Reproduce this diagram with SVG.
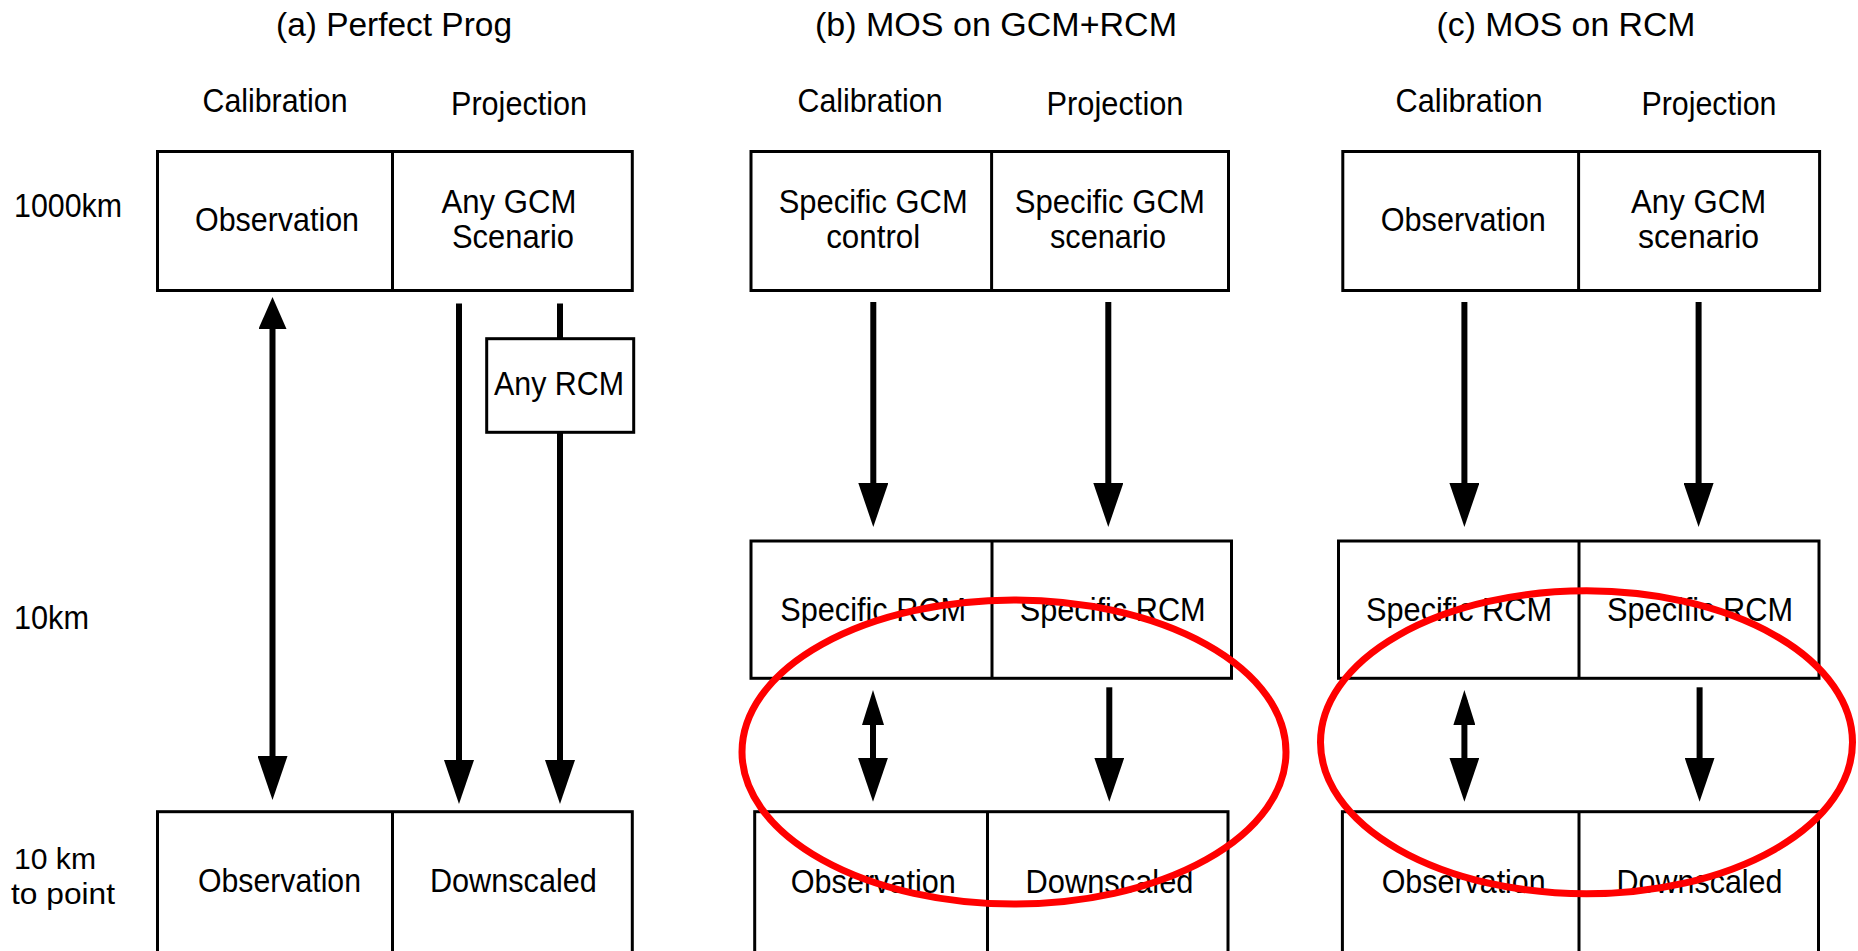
<svg xmlns="http://www.w3.org/2000/svg" width="1858" height="951" viewBox="0 0 1858 951">
<style>
  text { font-family: "Liberation Sans", Arial, sans-serif; font-size: 33px; fill: #000; }
  .c { text-anchor: middle; }
  .sm { font-size: 30px; }
  .box { fill: #fff; stroke: #000; stroke-width: 3; }
  .div { stroke: #000; stroke-width: 3; }
  .arrow { stroke: #000; stroke-width: 6; fill: none; }
  .ring { fill: none; stroke: #ff0000; stroke-width: 7; }
</style>
<defs>
  <marker id="headBig" markerUnits="userSpaceOnUse" markerWidth="44" markerHeight="30" viewBox="0 0 44 30" refX="34" refY="15" orient="auto-start-reverse">
    <path d="M0,0 L44,15 L0,30 z" fill="#000"/>
  </marker>
  <marker id="headA" markerUnits="userSpaceOnUse" markerWidth="32" markerHeight="28" viewBox="0 0 32 28" refX="24" refY="14" orient="auto-start-reverse">
    <path d="M0,0 L32,14 L0,28 z" fill="#000"/>
  </marker>
  <marker id="headS" markerUnits="userSpaceOnUse" markerWidth="35" markerHeight="22" viewBox="0 0 35 22" refX="25" refY="11" orient="auto-start-reverse">
    <path d="M0,0 L35,11 L0,22 z" fill="#000"/>
  </marker>
</defs>
<rect x="0" y="0" width="1858" height="951" fill="#fff"/>

<g id="labels">
  <text class="c" x="394" y="36" textLength="236" lengthAdjust="spacingAndGlyphs">(a) Perfect Prog</text>
  <text class="c" x="996" y="36" textLength="362" lengthAdjust="spacingAndGlyphs">(b) MOS on GCM+RCM</text>
  <text class="c" x="1566" y="36" textLength="259" lengthAdjust="spacingAndGlyphs">(c) MOS on RCM</text>
  <text class="c" x="275" y="112" textLength="145" lengthAdjust="spacingAndGlyphs">Calibration</text>
  <text class="c" x="519" y="115" textLength="136" lengthAdjust="spacingAndGlyphs">Projection</text>
  <text class="c" x="870" y="112" textLength="145" lengthAdjust="spacingAndGlyphs">Calibration</text>
  <text class="c" x="1115" y="115" textLength="137" lengthAdjust="spacingAndGlyphs">Projection</text>
  <text class="c" x="1469" y="112" textLength="147" lengthAdjust="spacingAndGlyphs">Calibration</text>
  <text class="c" x="1709" y="115" textLength="135" lengthAdjust="spacingAndGlyphs">Projection</text>
  <text x="14" y="217" textLength="108" lengthAdjust="spacingAndGlyphs">1000km</text>
  <text x="14" y="629" textLength="75" lengthAdjust="spacingAndGlyphs">10km</text>
  <text class="sm" x="14" y="869" textLength="82" lengthAdjust="spacingAndGlyphs">10 km</text>
  <text class="sm" x="11" y="904" textLength="104" lengthAdjust="spacingAndGlyphs">to point</text>
</g>

<g id="connectors">
  <line class="arrow" x1="272.5" y1="305" x2="272.5" y2="790" marker-start="url(#headA)" marker-end="url(#headBig)"/>
  <line class="arrow" x1="459" y1="303.5" x2="459" y2="794" marker-end="url(#headBig)"/>
  <line class="arrow" x1="560" y1="303.5" x2="560" y2="794" marker-end="url(#headBig)"/>
  <line class="arrow" x1="873.3" y1="302" x2="873.3" y2="517" marker-end="url(#headBig)"/>
  <line class="arrow" x1="1108.3" y1="302" x2="1108.3" y2="517" marker-end="url(#headBig)"/>
  <line class="arrow" x1="873" y1="700" x2="873" y2="791.7" marker-start="url(#headS)" marker-end="url(#headBig)"/>
  <line class="arrow" x1="1109.3" y1="687.3" x2="1109.3" y2="791.7" marker-end="url(#headBig)"/>
  <line class="arrow" x1="1464.4" y1="302" x2="1464.4" y2="517" marker-end="url(#headBig)"/>
  <line class="arrow" x1="1698.6" y1="302" x2="1698.6" y2="517" marker-end="url(#headBig)"/>
  <line class="arrow" x1="1464.4" y1="700" x2="1464.4" y2="791.7" marker-start="url(#headS)" marker-end="url(#headBig)"/>
  <line class="arrow" x1="1699.6" y1="687.3" x2="1699.6" y2="791.7" marker-end="url(#headBig)"/>
</g>

<g id="a-top">
  <rect class="box" x="157.5" y="151.5" width="474.8" height="139"/>
  <line class="div" x1="392.5" y1="151.5" x2="392.5" y2="290.5"/>
  <text class="c" x="277" y="231" textLength="164" lengthAdjust="spacingAndGlyphs">Observation</text>
  <text class="c" x="509" y="213" textLength="135" lengthAdjust="spacingAndGlyphs">Any GCM</text>
  <text class="c" x="513" y="248" textLength="122" lengthAdjust="spacingAndGlyphs">Scenario</text>
</g>
<g id="a-rcm">
  <rect class="box" x="486.7" y="338.7" width="147" height="93.6"/>
  <text class="c" x="559" y="395" textLength="130" lengthAdjust="spacingAndGlyphs">Any RCM</text>
</g>
<g id="a-bottom">
  <rect class="box" x="157.5" y="811.7" width="474.8" height="160"/>
  <line class="div" x1="392.5" y1="811.7" x2="392.5" y2="960"/>
  <text class="c" x="279.5" y="892" textLength="163" lengthAdjust="spacingAndGlyphs">Observation</text>
  <text class="c" x="513.4" y="892" textLength="167" lengthAdjust="spacingAndGlyphs">Downscaled</text>
</g>

<g id="b-top">
  <rect class="box" x="751" y="151.5" width="477.5" height="139"/>
  <line class="div" x1="991.6" y1="151.5" x2="991.6" y2="290.5"/>
  <text class="c" x="873.2" y="213" textLength="189" lengthAdjust="spacingAndGlyphs">Specific GCM</text>
  <text class="c" x="873.2" y="248" textLength="94" lengthAdjust="spacingAndGlyphs">control</text>
  <text class="c" x="1109.8" y="213" textLength="190" lengthAdjust="spacingAndGlyphs">Specific GCM</text>
  <text class="c" x="1108" y="248" textLength="116" lengthAdjust="spacingAndGlyphs">scenario</text>
</g>
<g id="b-mid">
  <rect class="box" x="751" y="541" width="480.5" height="137.3"/>
  <line class="div" x1="992" y1="541" x2="992" y2="678.3"/>
  <text class="c" x="873.2" y="621" textLength="186" lengthAdjust="spacingAndGlyphs">Specific RCM</text>
  <text class="c" x="1112.7" y="621" textLength="186" lengthAdjust="spacingAndGlyphs">Specific RCM</text>
</g>
<g id="b-bottom">
  <rect class="box" x="754.7" y="811.7" width="473.3" height="160"/>
  <line class="div" x1="987.5" y1="811.7" x2="987.5" y2="960"/>
  <text class="c" x="873.3" y="893" textLength="165" lengthAdjust="spacingAndGlyphs">Observation</text>
  <text class="c" x="1109.5" y="893" textLength="168" lengthAdjust="spacingAndGlyphs">Downscaled</text>
</g>

<g id="c-top">
  <rect class="box" x="1342.8" y="151.5" width="476.8" height="139"/>
  <line class="div" x1="1578.6" y1="151.5" x2="1578.6" y2="290.5"/>
  <text class="c" x="1463.3" y="231" textLength="165" lengthAdjust="spacingAndGlyphs">Observation</text>
  <text class="c" x="1698.6" y="213" textLength="135" lengthAdjust="spacingAndGlyphs">Any GCM</text>
  <text class="c" x="1698.6" y="248" textLength="121" lengthAdjust="spacingAndGlyphs">scenario</text>
</g>
<g id="c-mid">
  <rect class="box" x="1338.5" y="541" width="480.5" height="137.3"/>
  <line class="div" x1="1579" y1="541" x2="1579" y2="678.3"/>
  <text class="c" x="1459" y="621" textLength="186" lengthAdjust="spacingAndGlyphs">Specific RCM</text>
  <text class="c" x="1700" y="621" textLength="186" lengthAdjust="spacingAndGlyphs">Specific RCM</text>
</g>
<g id="c-bottom">
  <rect class="box" x="1342.4" y="811.7" width="476.1" height="160"/>
  <line class="div" x1="1579" y1="811.7" x2="1579" y2="960"/>
  <text class="c" x="1463.7" y="893" textLength="164" lengthAdjust="spacingAndGlyphs">Observation</text>
  <text class="c" x="1699.5" y="893" textLength="166" lengthAdjust="spacingAndGlyphs">Downscaled</text>
</g>

<g id="highlights">
  <ellipse class="ring" cx="1014" cy="752" rx="272" ry="152"/>
  <ellipse class="ring" cx="1586.5" cy="742.3" rx="266" ry="151.5"/>
</g>
</svg>
